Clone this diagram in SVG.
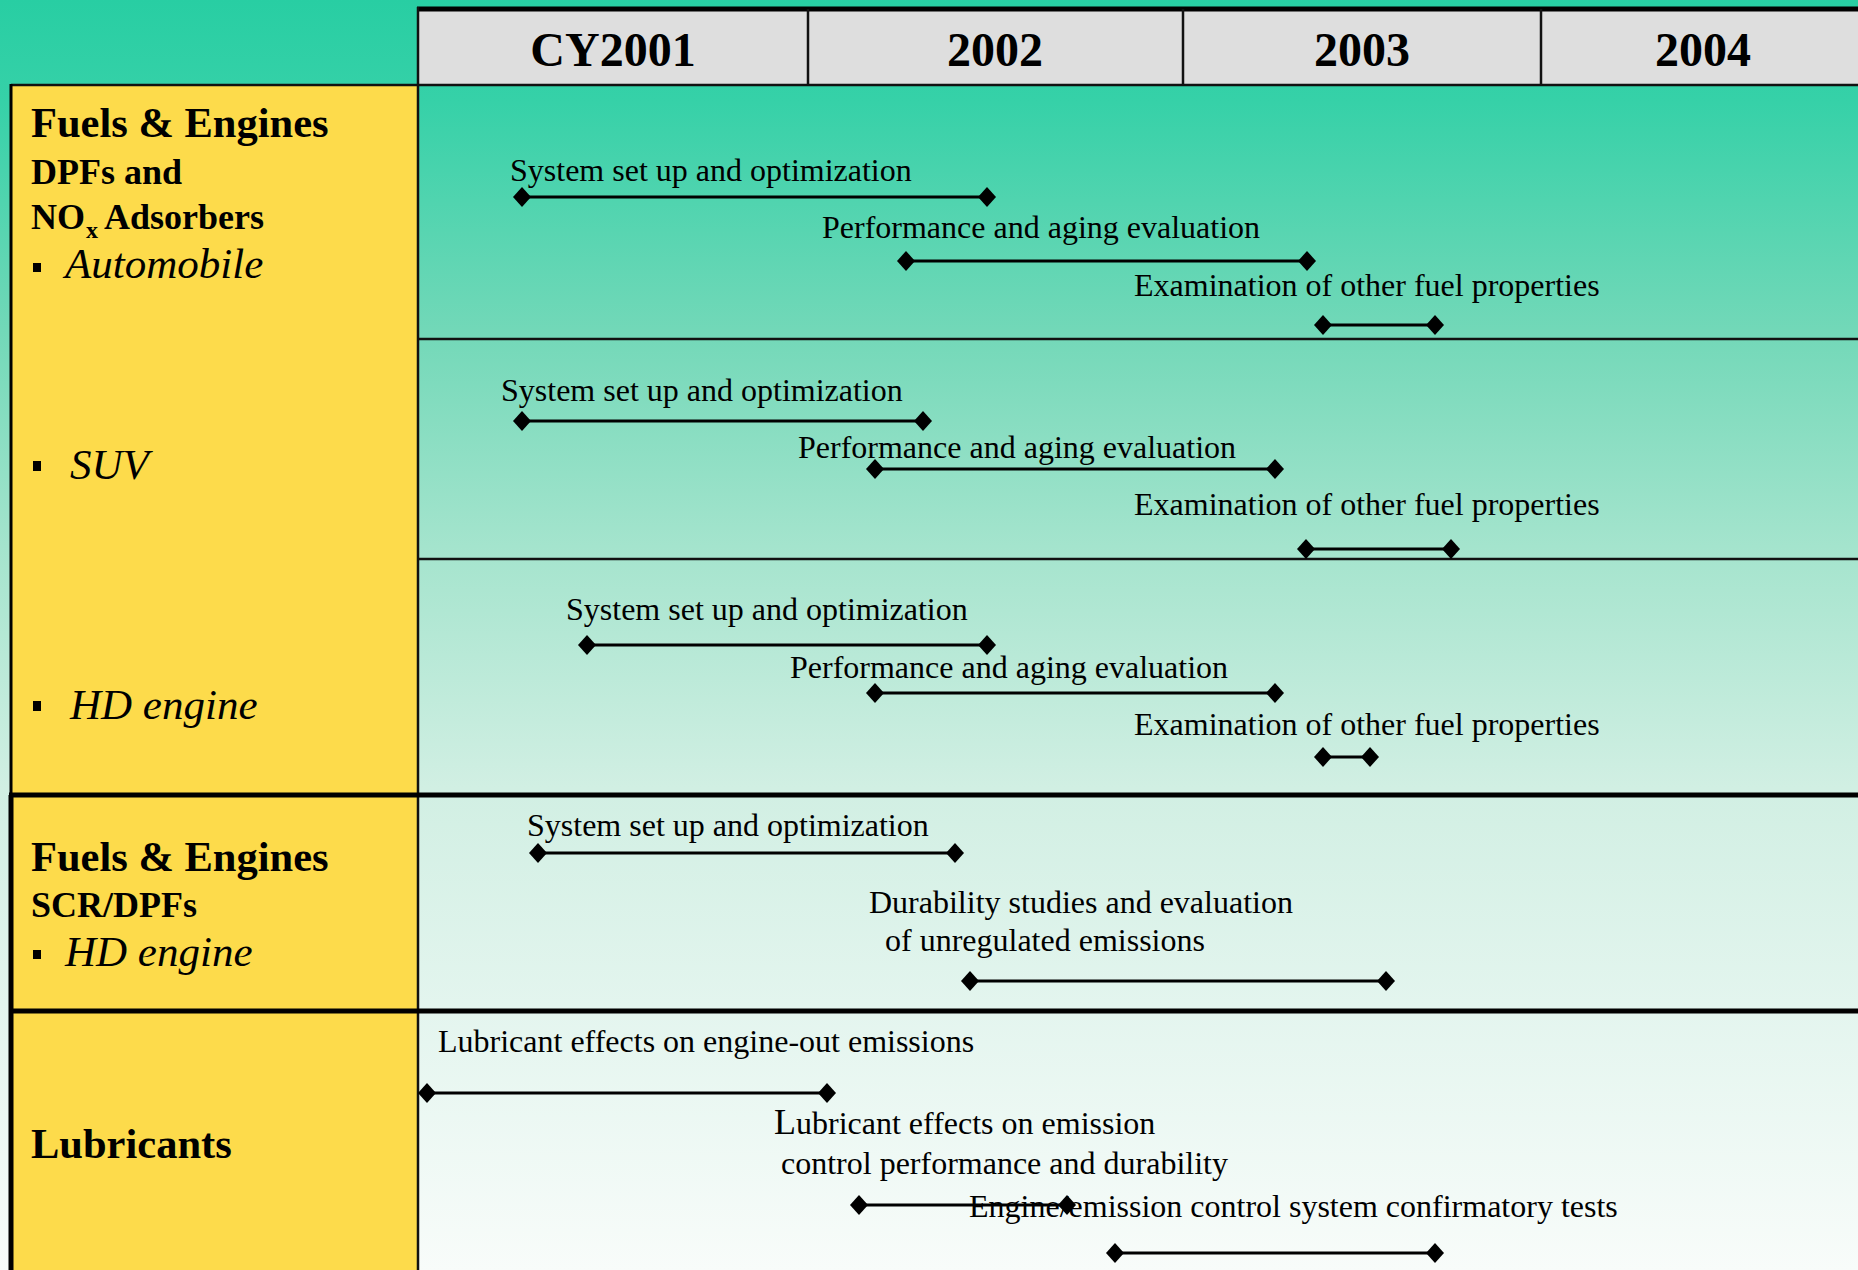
<svg xmlns="http://www.w3.org/2000/svg" width="1858" height="1270" viewBox="0 0 1858 1270">
<style>
.hdr{font-family:"Liberation Serif","Times New Roman",serif;font-weight:bold;font-size:48px;fill:#000;text-anchor:middle}
.b42{font-family:"Liberation Serif","Times New Roman",serif;font-weight:bold;font-size:42.5px;fill:#000}
.b36{font-family:"Liberation Serif","Times New Roman",serif;font-weight:bold;font-size:36px;fill:#000}
.it{font-family:"Liberation Serif","Times New Roman",serif;font-style:italic;font-size:43px;fill:#000}
.t{font-family:"Liberation Serif","Times New Roman",serif;font-size:32px;fill:#000}
.bar{stroke:#000;stroke-width:3;fill:none;marker-start:url(#dia);marker-end:url(#dia)}
.thin{stroke:#111;stroke-width:2.5}
.thick{stroke:#000;stroke-width:5}
</style>
<defs>
<linearGradient id="bg" x1="0" y1="0" x2="0" y2="1270" gradientUnits="userSpaceOnUse">
<stop offset="0" stop-color="#28cea3"/>
<stop offset="0.08" stop-color="#36d1a8"/>
<stop offset="0.26" stop-color="#72d8b8"/>
<stop offset="0.43" stop-color="#a4e4cd"/>
<stop offset="0.62" stop-color="#d1efe3"/>
<stop offset="0.79" stop-color="#e3f5ee"/>
<stop offset="1" stop-color="#f8fcfa"/>
</linearGradient>
<marker id="dia" viewBox="-9 -10 18 20" refX="0" refY="0" markerWidth="18" markerHeight="20" markerUnits="userSpaceOnUse" orient="auto">
<path d="M0,-10L9,0L0,10L-9,0Z" fill="#000"/>
</marker>
</defs>
<rect x="0" y="0" width="1858" height="1270" fill="url(#bg)"/>

<g id="header">
<rect x="417" y="9" width="1441" height="76" fill="#dedede"/>
<line x1="417" y1="9" x2="1858" y2="9" class="thick"/>
<line x1="417" y1="85" x2="1858" y2="85" class="thin"/>
<line x1="418" y1="7" x2="418" y2="85" class="thin"/>
<line x1="808" y1="9" x2="808" y2="85" class="thin"/>
<line x1="1183" y1="9" x2="1183" y2="85" class="thin"/>
<line x1="1541" y1="9" x2="1541" y2="85" class="thin"/>
<g id="col-2001"><text class="hdr" x="613" y="66">CY2001</text></g>
<g id="col-2002"><text class="hdr" x="995" y="66">2002</text></g>
<g id="col-2003"><text class="hdr" x="1362" y="66">2003</text></g>
<g id="col-2004"><text class="hdr" x="1703" y="66">2004</text></g>
</g>

<g id="left-column">
<rect x="11" y="85" width="406" height="1185" fill="#fddb4b"/>
<line x1="11" y1="85" x2="417" y2="85" class="thin"/>
<line x1="11" y1="84" x2="11" y2="795" stroke="#000" stroke-width="3"/>
<line x1="11" y1="795" x2="11" y2="1270" stroke="#000" stroke-width="5"/>
<line x1="418" y1="85" x2="418" y2="1270" class="thin"/>
</g>

<g id="row-separators">
<line x1="418" y1="339" x2="1858" y2="339" class="thin"/>
<line x1="418" y1="559" x2="1858" y2="559" class="thin"/>
<line x1="9" y1="795" x2="1858" y2="795" class="thick"/>
<line x1="9" y1="1011" x2="1858" y2="1011" class="thick"/>
</g>

<g id="label-dpf-nox">
<text class="b42" x="31" y="137">Fuels &amp; Engines</text>
<text class="b36" x="31" y="184">DPFs and</text>
<text class="b36" x="31" y="229">NO<tspan x="86" dy="9" font-size="24">x</tspan><tspan x="104" dy="-9">Adsorbers</tspan></text>
</g>
<g id="label-automobile">
<rect x="33" y="263" width="8" height="9" fill="#000"/>
<text class="it" x="65" y="278">Automobile</text>
</g>
<g id="label-suv">
<rect x="33" y="461" width="8" height="10" fill="#000"/>
<text class="it" x="70" y="479">SUV</text>
</g>
<g id="label-hd-engine-1">
<rect x="33" y="701" width="8" height="10" fill="#000"/>
<text class="it" x="70" y="719">HD engine</text>
</g>
<g id="label-scr-dpf">
<text class="b42" x="31" y="871">Fuels &amp; Engines</text>
<text class="b36" x="31" y="917">SCR/DPFs</text>
<rect x="33" y="950" width="8" height="9" fill="#000"/>
<text class="it" x="65" y="966">HD engine</text>
</g>
<g id="label-lubricants">
<text class="b42" x="31" y="1158">Lubricants</text>
</g>

<g id="task-labels">
<g id="r1-labels">
<text class="t" x="510" y="181">System set up and optimization</text>
<text class="t" x="822" y="238">Performance and aging evaluation</text>
<text class="t" x="1134" y="296">Examination of other fuel properties</text>
</g>
<g id="r2-labels">
<text class="t" x="501" y="401">System set up and optimization</text>
<text class="t" x="798" y="458">Performance and aging evaluation</text>
<text class="t" x="1134" y="515">Examination of other fuel properties</text>
</g>
<g id="r3-labels">
<text class="t" x="566" y="620">System set up and optimization</text>
<text class="t" x="790" y="678">Performance and aging evaluation</text>
<text class="t" x="1134" y="735">Examination of other fuel properties</text>
</g>
<g id="r4-labels">
<text class="t" x="527" y="836">System set up and optimization</text>
<text class="t" x="869" y="913">Durability studies and evaluation</text>
<text class="t" x="885" y="951">of unregulated emissions</text>
</g>
<g id="r5-labels">
<text class="t" x="438" y="1052">Lubricant effects on engine-out emissions</text>
<text class="t" x="774" y="1134"><tspan font-size="36">L</tspan>ubricant effects on emission</text>
<text class="t" x="781" y="1174">control performance and durability</text>
</g>
</g>

<g id="connectors">
<line class="bar" x1="522" y1="197" x2="987" y2="197"/>
<line class="bar" x1="906" y1="261" x2="1307" y2="261"/>
<line class="bar" x1="1323" y1="325" x2="1435" y2="325"/>
<line class="bar" x1="522" y1="421" x2="923" y2="421"/>
<line class="bar" x1="875" y1="469" x2="1275" y2="469"/>
<line class="bar" x1="1306" y1="549" x2="1451" y2="549"/>
<line class="bar" x1="587" y1="645" x2="987" y2="645"/>
<line class="bar" x1="875" y1="693" x2="1275" y2="693"/>
<line class="bar" x1="1323" y1="757" x2="1370" y2="757"/>
<line class="bar" x1="538" y1="853" x2="955" y2="853"/>
<line class="bar" x1="970" y1="981" x2="1386" y2="981"/>
<line class="bar" x1="427" y1="1093" x2="827" y2="1093"/>
<line class="bar" x1="859" y1="1205" x2="1067" y2="1205"/>
<line class="bar" x1="1115" y1="1253" x2="1435" y2="1253"/>
</g>
<g id="r5-overlap-label">
<text class="t" x="969" y="1217">Engine/emission control system confirmatory tests</text>
</g>
</svg>
